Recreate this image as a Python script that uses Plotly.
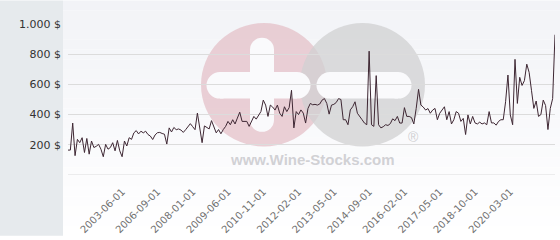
import plotly.graph_objects as go

# ---- data ----
prices = [
    # early period
    165, 165, 344, 128, 236, 214, 247, 149, 242, 138, 225, 182, 190, 203, 171, 121, 203, 171, 182, 214,
    160, 229, 160, 121, 225, 192, 247, 236, 279, 294, 272, 290, 279, 290, 268, 258, 235, 265, 280, 282,
    275, 270, 205, 312, 285, 315, 300, 305, 298, 282, 300, 320, 340, 320, 300, 410, 300, 214, 325, 315,
    305,
    # middle period
    360, 322, 279, 301, 273, 301, 322, 355, 333, 366, 338, 377, 416, 355, 355, 355, 322, 355, 388, 370,
    395, 420, 496, 463, 388, 463, 450, 430, 463, 409, 388, 452, 420, 446, 561, 312, 420, 400, 431, 410,
    344, 441, 474, 465, 468, 463, 470, 496, 506, 474, 403, 463, 468, 480, 506, 500, 366, 366, 333, 431,
    452, 485, 409, 390, 366, 344, 333, 820, 333, 322, 658, 333, 312,
    # late period
    320, 333, 328, 340, 372, 360, 388, 344, 344, 446, 388, 388, 380, 338, 441, 567, 463, 450, 430, 440,
    409, 430, 441, 366, 409, 430, 452, 366, 420, 338, 366, 420, 409, 355, 375, 268, 398, 338, 388, 345,
    338, 350, 338, 345, 333, 420, 345, 345, 330, 355, 366, 366, 485, 662, 398, 333, 766, 474, 647, 593,
    625, 734, 680, 561, 441, 490, 388, 400, 496, 460, 301, 441, 506, 929,
]
tick_labels = ["2003-06-01", "2006-09-01", "2008-01-01", "2009-06-01", "2010-11-01", "2012-02-01",
               "2013-05-01", "2014-09-01", "2016-02-01", "2017-05-01", "2018-10-01", "2020-03-01"]
tick_index = [23, 38, 53, 68, 83, 98, 113, 128, 143, 158, 173, 188]
y_ticks = [0, 200, 400, 600, 800, 1000]
y_tick_text = ["", "200 $", "400 $", "600 $", "800 $", "1.000 $"]

x = list(range(len(prices)))

# ---- layout helpers (pixel -> paper) ----
L, R, T, B = 68, 555, 24, 178
def px(v):
    return (v - L) / (R - L)
def py(v):
    return (B - v) / (B - T)

shapes = []
# background gradient bands
nb = 24
for i in range(nb):
    t = i / (nb - 1)
    c = tuple(int(round(a + (255 - a) * t)) for a in (242, 243, 247))
    shapes.append(dict(type="rect", xref="paper", yref="paper",
                       x0=px(63), x1=px(560), y0=py(i * 10), y1=py(i * 10 + 10),
                       fillcolor="rgb(%d,%d,%d)" % c, line=dict(width=0), layer="below"))
# left gray strip
shapes.append(dict(type="rect", xref="paper", yref="paper", x0=px(0), x1=px(63), y0=py(0), y1=py(240),
                   fillcolor="#e6eaed", line=dict(width=0), layer="below"))
# watermark: pink circle with plus, gray circle with minus
pink = "rgba(228,192,200,0.75)"
grey = "rgba(208,208,210,0.75)"
wm = "rgba(250,250,252,1)"
shapes.append(dict(type="circle", xref="paper", yref="paper", x0=px(201), x1=px(327), y0=py(149), y1=py(23),
                   fillcolor=pink, line=dict(width=0), layer="below"))
shapes.append(dict(type="circle", xref="paper", yref="paper", x0=px(300), x1=px(425), y0=py(149), y1=py(23),
                   fillcolor=grey, line=dict(width=0), layer="below"))
def bar(x0, x1, y0, y1, col):
    shapes.append(dict(type="rect", xref="paper", yref="paper", x0=px(x0), x1=px(x1), y0=py(y1), y1=py(y0),
                       fillcolor=col, line=dict(width=0), layer="below"))
def dot(cx, cy, r, col):
    shapes.append(dict(type="circle", xref="paper", yref="paper", x0=px(cx - r), x1=px(cx + r),
                       y0=py(cy + r), y1=py(cy - r), fillcolor=col, line=dict(width=0), layer="below"))
# plus
bar(220, 297, 73, 100, wm); dot(220, 86.5, 13.5, wm); dot(297, 86.5, 13.5, wm)
bar(250, 274, 50, 122, wm); dot(262, 50, 12, wm); dot(262, 122, 12, wm)
# minus
bar(330, 398, 73, 100, wm); dot(330, 86.5, 13.5, wm); dot(398, 86.5, 13.5, wm)
# zero grid line (plotly hides the grid line lying on the axis edge)
shapes.append(dict(type="line", xref="paper", yref="y", x0=0, x1=1, y0=0, y1=0,
                   line=dict(color="#dcdcdc", width=1), layer="below"))

annotations = [
    dict(text="<b>www.Wine-Stocks.com</b>", xref="paper", yref="paper", x=px(312), y=py(162),
         xanchor="center", yanchor="middle", showarrow=False,
         font=dict(family="Liberation Sans", size=15, color="rgba(198,198,202,0.8)")),
    dict(text="®", xref="paper", yref="paper", x=px(413), y=py(139),
         xanchor="center", yanchor="middle", showarrow=False,
         font=dict(family="Liberation Sans", size=14, color="rgba(195,195,198,0.8)")),
]

fig = go.Figure(go.Scatter(x=x, y=prices, mode="lines",
                           line=dict(color="#3e2733", width=1), hoverinfo="skip"))
fig.update_layout(
    width=560, height=240,
    margin=dict(l=L, r=560 - R, t=T, b=240 - B),
    paper_bgcolor="white", plot_bgcolor="rgba(0,0,0,0)",
    showlegend=False, shapes=shapes, annotations=annotations,
    font=dict(family="DejaVu Sans"),
)
fig.update_xaxes(range=[0, len(prices) - 1], tickvals=tick_index, ticktext=tick_labels,
                 tickangle=-45, showgrid=False, zeroline=False, showline=False,
                 ticklabelstandoff=8,
                 tickfont=dict(size=10, color="#707070"))
fig.update_yaxes(range=[0, 1000], tickvals=y_ticks, ticktext=y_tick_text,
                 showgrid=True, gridcolor="#dcdcdc", gridwidth=1, zeroline=False, showline=False,
                 ticklabelstandoff=6, tickfont=dict(size=11, color="#333333"))
fig.write_html("out.html")
